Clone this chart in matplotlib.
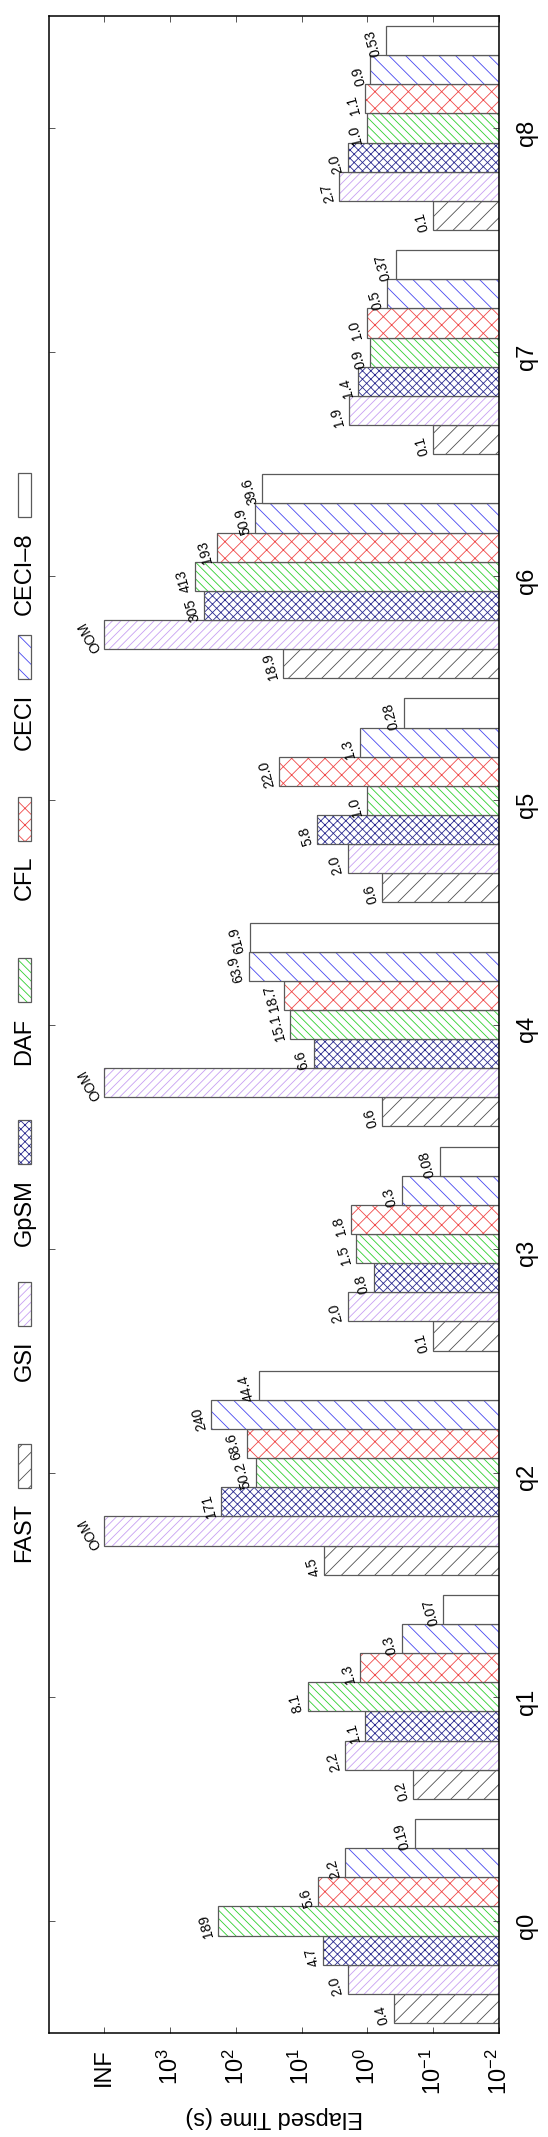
import numpy as np
import matplotlib
matplotlib.use("Agg")
import matplotlib.pyplot as plt
from matplotlib.patches import Rectangle

plt.rcParams["font.family"] = ["Liberation Sans", "DejaVu Sans"]
plt.rcParams["mathtext.fontset"] = "custom"
plt.rcParams["mathtext.rm"] = "Liberation Sans"
plt.rcParams["mathtext.default"] = "regular"
plt.rcParams["hatch.linewidth"] = 0.6

queries = ["q0", "q1", "q2", "q3", "q4", "q5", "q6", "q7", "q8"]
methods = ["FAST", "GSI", "GpSM", "DAF", "CFL", "CECI", "CECI–8"]

# elapsed time (s) as printed on top of each bar, "OOM" = out of memory (drawn at INF)
fast = ["0.4", "0.2", "4.5", "0.1", "0.6", "0.6", "18.9", "0.1", "0.1"]
gsi = ["2.0", "2.2", "OOM", "2.0", "OOM", "2.0", "OOM", "1.9", "2.7"]
gpsm = ["4.7", "1.1", "171", "0.8", "6.6", "5.8", "305", "1.4", "2.0"]
daf = ["189", "8.1", "50.2", "1.5", "15.1", "1.0", "413", "0.9", "1.0"]
cfl = ["5.6", "1.3", "68.6", "1.8", "18.7", "22.0", "193", "1.0", "1.1"]
ceci = ["2.2", "0.3", "240", "0.3", "63.9", "1.3", "50.9", "0.5", "0.9"]
ceci8 = ["0.19", "0.07", "44.4", "0.08", "61.9", "0.28", "39.6", "0.37", "0.53"]

value_ticks = [1e-2, 1e-1, 1e0, 1e1, 1e2, 1e3, 1e4]
value_ticklabels = ["$10^{-2}$", "$10^{-1}$", "$10^{0}$", "$10^{1}$", "$10^{2}$", "$10^{3}$", "INF"]

INF_VALUE = 1e4
XMIN, XMAX = 1e-2, 10 ** 4.84

series = [fast, gsi, gpsm, daf, cfl, ceci, ceci8]
hatch_colors = ["#505050", "#c7a0f2", "#2b2b90", "#30d030", "#f04848", "#4848f0", "#ffffff"]
hatches = ["//", "////", "xxxx", "\\\\\\\\", "xx", "\\\\", ""]
edge = "#5a5a5a"

W, H = 548, 2137
fig = plt.figure(figsize=(W / 100, H / 100), dpi=100)
ax = fig.add_axes([49 / W, (H - 2033) / H, 450 / W, (2033 - 16) / H])

y = np.arange(len(queries))
h = 0.13
for i, labels in enumerate(series):
    vals = np.array([INF_VALUE if s == "OOM" else float(s) for s in labels])
    pos = y + (i - 3) * h
    ax.barh(pos, vals - XMIN, left=XMIN, height=h, color="white",
            hatch=hatches[i], edgecolor=hatch_colors[i], linewidth=0)
    ax.barh(pos, vals - XMIN, left=XMIN, height=h, fill=False,
            edgecolor=edge, linewidth=0.9)
    for p, v, s in zip(pos, vals, labels):
        oom = s == "OOM"
        ax.annotate(s, xy=(v, p - h / 2), xytext=(-3 if oom else -5, 0),
                    textcoords="offset pixels", rotation=120 if oom else 105,
                    rotation_mode="anchor", ha="left", va="baseline", fontsize=10)

ax.set_xscale("log")
ax.set_xlim(XMAX, XMIN)
ax.set_ylim(-0.5, len(queries) - 0.5)
ax.set_xticks(value_ticks)
ax.set_xticklabels(value_ticklabels)
ax.minorticks_off()
ax.set_yticks(y)
ax.set_yticklabels(queries)
ax.yaxis.tick_right()
ax.tick_params(axis="x", direction="in", length=4.5, width=0.7, color="#555555",
               top=True, bottom=True, labelrotation=90, labelsize=17, pad=11)
ax.tick_params(axis="y", direction="in", length=4.5, width=0.7, color="#555555",
               left=True, right=True, labelleft=False, labelright=True,
               labelrotation=90, labelsize=17, pad=12)
for sp in ax.spines.values():
    sp.set_linewidth(1.1)

fig.text(274 / W, 1 - 2117 / H, "Elapsed Time (s)", rotation=180,
         ha="center", va="center", fontsize=17)

# legend down the left margin, read bottom to top
for i, name in enumerate(methods):
    c = 1465.5 - 161.7 * i
    x0, x1 = 18, 31
    y_top, y_bot = c - 22, c + 22
    for kw in ({"facecolor": "white", "edgecolor": hatch_colors[i], "hatch": hatches[i], "linewidth": 0},
               {"fill": False, "edgecolor": edge, "linewidth": 0.9}):
        fig.add_artist(Rectangle((x0 / W, 1 - y_bot / H), (x1 - x0) / W, 44 / H,
                                 transform=fig.transFigure, **kw))
    fig.text(24.5 / W, 1 - (y_bot + 15) / H, name, rotation=90,
             ha="center", va="top", fontsize=17)

fig.savefig("out.png", dpi=100)
